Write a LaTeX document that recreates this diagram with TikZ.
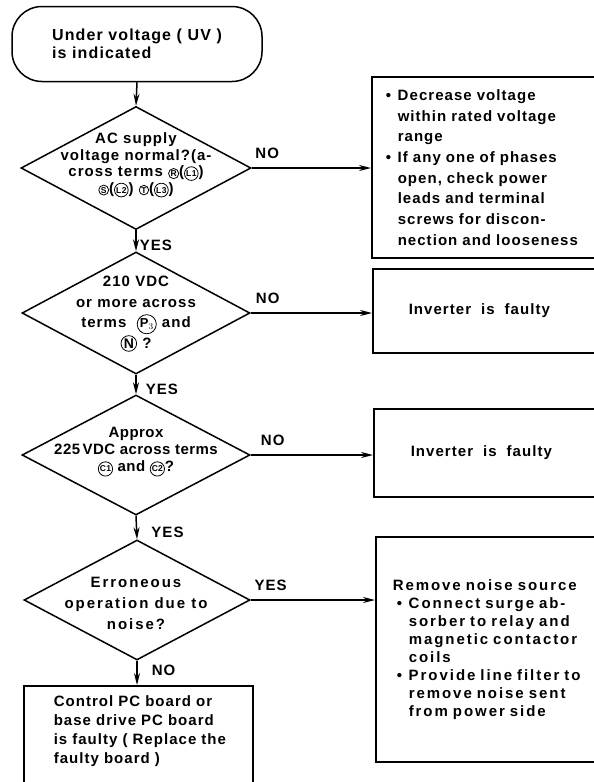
\documentclass[tikz,border=0pt]{standalone}
\usepackage{fontspec}
\setmainfont{Liberation Sans}[LetterSpace=7]
\newfontfamily\widefont{Liberation Sans}[LetterSpace=13]
\newfontfamily\tightfont{Liberation Sans}[LetterSpace=3]
\usetikzlibrary{shapes.geometric,arrows.meta}

% circled terminal marks
\newcommand\term[2][8.5]{\tikz[baseline=(tm.base)]\node[draw,circle,line width=0.8pt,inner sep=0.6pt,font=\fontsize{#1}{#1}\selectfont\bfseries](tm){#2};}
\newcommand\bul{\makebox[12pt][l]{\textbullet}}
\newcommand\ind{\hspace*{12pt}}
\newcommand\pad{\hspace*{15pt}}

\begin{document}
\begin{tikzpicture}[x=1pt, y=-1pt, line width=1.5pt,
	box/.style = {draw, rectangle, align=left, anchor=west},
	dec/.style = {draw, diamond, inner sep=0pt, minimum width=228pt, minimum height=122pt},
	txt/.style = {align=center, font=\bfseries\fontsize{15}{17}\selectfont},
	lbl/.style = {font=\bfseries\fontsize{15}{15}\selectfont, inner sep=0pt},
	arr/.style = {-{Stealth[length=12pt,width=6pt]}}]

	\useasboundingbox (0,0) rectangle (594,782);
	\clip (0,0) rectangle (594,782);

	% main column
	\node[draw, rounded corners=30pt, minimum width=250pt, minimum height=75pt, align=left,
		font=\bfseries\fontsize{16}{18}\selectfont] (start) at (137,44) {Under voltage ( UV )\\is indicated};

	\node[dec, minimum width=230pt, minimum height=123pt] (d1) at (136,168) {};
	\node[txt, font=\bfseries\fontsize{15}{16.5}\selectfont] (d1t) at (136,165)
		{AC supply\\voltage normal?(a-\\cross terms \term{R}(\term{L1})\\\term{S}(\term{L2}) \term{T}(\term{L3})};

	\node[dec] (d2) at (136,313) {};
	\node[txt, font=\bfseries\fontsize{15}{20.5}\selectfont] (d2t) at (136,314)
		{210 VDC\\or more across\\terms \ \term[13]{P$_3$} and\\\term[14]{N} ?};

	\node[dec, minimum height=120pt] (d3) at (136,455) {};
	\node[txt, font=\tightfont\bfseries\fontsize{15}{17}\selectfont] (d3t) at (136,452)
		{Approx\\225\,VDC across terms\\\term{C1} and \term{C2}?};

	\node[dec, minimum width=226pt, minimum height=120pt] (d4) at (137,600) {};
	\node[txt, font=\widefont\bfseries\fontsize{15}{21}\selectfont] (d4t) at (136,603)
		{Erroneous\\operation due to\\noise?};

	\node[box, anchor=north west, inner xsep=15pt, inner ysep=10pt, text width=199pt,
		font=\bfseries\fontsize{15}{19}\selectfont] (pcb) at (23,685)
		{\pad Control PC board or\\\pad base drive PC board\\\pad is faulty ( Replace the\\\pad faulty board )\\\mbox{}};

	% remedies on the right
	\node[box, inner xsep=14pt, text width=215pt, minimum height=181pt,
		font=\bfseries\fontsize{15}{20.7}\selectfont] (fix1) at (371,167.5)
		{\bul Decrease voltage\\\ind within rated voltage\\\ind range\\
		 \bul If any one of phases\\\ind open, check power\\\ind leads and terminal\\
		 \ind screws for discon-\\\ind nection and looseness};

	\node[box, inner xsep=36pt, text width=200pt, minimum height=84pt,
		font=\bfseries\fontsize{15}{18}\selectfont] (fix2) at (372,311) {Inverter \ is \ faulty};

	\node[box, inner xsep=37pt, text width=200pt, minimum height=88pt,
		font=\bfseries\fontsize{15}{18}\selectfont] (fix3) at (373,453) {Inverter \ is \ faulty};

	\node[box, inner xsep=17pt, text width=215pt, minimum height=225pt,
		font=\widefont\bfseries\fontsize{15}{18}\selectfont] (fix4) at (375,649.5)
		{Remove noise source\\
		 \hspace*{4pt}\bul Connect surge ab-\\\hspace*{4pt}\ind sorber to relay and\\
		 \hspace*{4pt}\ind magnetic contactor\\\hspace*{4pt}\ind coils\\
		 \hspace*{4pt}\bul Provide line filter to\\\hspace*{4pt}\ind remove noise sent\\
		 \hspace*{4pt}\ind from power side};

	% connectors
	\draw[arr] (start.south) -- (d1.north);
	\draw[arr] (d1.south) -- node[lbl, right=3pt, pos=.7] (yes1) {YES} (d2.north);
	\draw[arr] (d2.south) -- node[lbl, right=9pt, pos=.75] (yes2) {YES} (d3.north);
	\draw[arr] (d3.south) -- node[lbl, right=14pt, pos=.7] (yes3) {YES} (d4.north);
	\draw[arr] (d4.south) -- node[lbl, right=14pt, pos=.4] (no4) {NO} (d4.south |- pcb.north);

	\draw[arr] (d1.east) -- node[lbl, above=9pt, pos=.13] (no1) {NO} (d1.east -| fix1.west);
	\draw[arr] (d2.east) -- node[lbl, above=9pt, pos=.14] (no2) {NO} (d2.east -| fix2.west);
	\draw[arr] (d3.east) -- node[lbl, above=9pt, pos=.18] (no3) {NO} (d3.east -| fix3.west);
	\draw[arr] (d4.east) -- node[lbl, above=9pt, pos=.16] (yes4) {YES} (d4.east -| fix4.west);
\end{tikzpicture}
\end{document}
